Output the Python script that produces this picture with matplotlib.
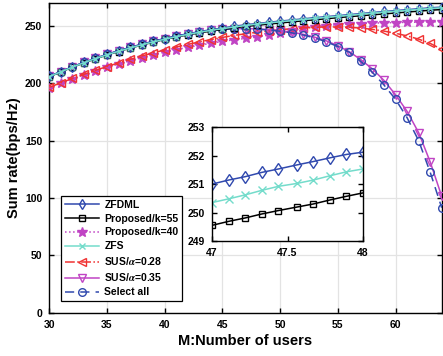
import numpy as np
import matplotlib
matplotlib.use("Agg")
from matplotlib import pyplot as plt

# main curves, one value per user count M = 30..64
m = np.arange(30, 65)

zfdml = [206.0, 210.2, 214.3, 218.2, 221.8, 225.2, 228.3, 231.2, 234.0, 236.6,
         239.0, 241.2, 243.2, 245.0, 246.7, 248.2, 249.7, 251.0, 252.1, 253.2,
         254.2, 255.2, 256.2, 257.2, 258.1, 259.0, 259.9, 260.8, 261.7, 262.6,
         263.4, 264.2, 265.0, 265.8, 266.4]
prop55 = [205.7, 209.9, 213.9, 217.8, 221.3, 224.7, 227.7, 230.6, 233.3, 235.8,
          238.2, 240.3, 242.2, 243.9, 245.5, 246.9, 248.3, 249.55, 250.6, 251.6,
          252.6, 253.5, 254.5, 255.4, 256.3, 257.2, 258.1, 258.9, 259.7, 260.5,
          261.3, 262.1, 262.9, 263.7, 264.3]
prop40 = [196.3, 200.1, 203.8, 207.3, 210.6, 213.8, 216.8, 219.6, 222.3, 224.8,
          227.1, 229.3, 231.3, 233.2, 234.9, 236.5, 237.9, 239.1, 240.3, 242.0,
          244.0, 246.0, 247.8, 249.2, 250.3, 251.1, 251.7, 252.1, 252.4, 252.7,
          252.9, 253.1, 253.3, 253.5, 253.7]
zfs = [205.8, 210.0, 214.0, 217.9, 221.5, 224.8, 227.9, 230.7, 233.5, 236.0,
       238.4, 240.6, 242.6, 244.4, 246.1, 247.6, 249.0, 250.35, 251.55, 252.6,
       253.6, 254.6, 255.6, 256.6, 257.5, 258.4, 259.3, 260.2, 261.1, 262.0,
       262.8, 263.6, 264.4, 265.2, 265.8]
sus028 = [196.5, 200.4, 204.2, 207.8, 211.3, 214.6, 217.8, 220.8, 223.7, 226.5,
          229.1, 231.6, 233.9, 236.1, 238.1, 240.0, 241.7, 243.2, 244.5, 245.7,
          246.7, 247.6, 248.3, 248.8, 249.1, 249.1, 248.8, 248.1, 247.0, 245.5,
          243.6, 241.3, 238.5, 234.8, 229.6]
sus035 = [206.0, 210.2, 214.3, 218.2, 221.8, 225.2, 228.3, 231.2, 234.0, 236.6,
          239.0, 241.1, 243.0, 244.8, 246.2, 247.1, 247.6, 247.7, 247.4, 246.8,
          245.8, 244.5, 242.7, 240.2, 237.0, 232.8, 227.5, 220.5, 212.5, 202.5,
          190.0, 175.5, 157.0, 131.5, 101.5]
select_all = [206.0, 210.2, 214.3, 218.2, 221.8, 225.2, 228.3, 231.2, 234.0, 236.6,
              239.0, 241.0, 243.0, 244.8, 246.2, 247.1, 247.6, 247.6, 247.2, 246.5,
              245.4, 244.0, 242.1, 239.5, 236.2, 232.0, 227.0, 219.0, 209.5, 198.5,
              186.0, 170.0, 150.0, 122.5, 91.5]

# zoomed detail for M between 47 and 48
m_zoom = [47.0, 47.11, 47.22, 47.33, 47.44, 47.56, 47.67, 47.78, 47.89, 48.0]
zfdml_zoom = [251.0, 251.14, 251.26, 251.41, 251.53, 251.67, 251.79, 251.92, 252.04, 252.12]
prop55_zoom = [249.55, 249.69, 249.81, 249.95, 250.07, 250.19, 250.3, 250.44, 250.57, 250.69]
zfs_zoom = [250.35, 250.48, 250.62, 250.78, 250.92, 251.02, 251.14, 251.29, 251.43, 251.53]

labels = ["ZFDML", "Proposed/k=55", "Proposed/k=40", "ZFS",
          r"SUS/$\alpha$=0.28", r"SUS/$\alpha$=0.35", "Select all"]

blue = "#3049AE"
magenta = "#C044C4"
red = "#F03232"
cyan = "#74DCCB"

plt.rcParams["font.family"] = ["Liberation Sans", "DejaVu Sans"]
plt.rcParams["font.weight"] = "bold"
plt.rcParams["axes.labelweight"] = "bold"
plt.rcParams["mathtext.fontset"] = "stix"

fig = plt.figure(figsize=(4.43, 3.56), dpi=100)
ax = fig.add_axes([0.1113, 0.1216, 0.8858, 0.870])

ms = 5
lw = 1.1
mew = 1.0
ax.plot(m, zfdml, "-", color=blue, marker="d", mfc="none", ms=ms, mew=mew, lw=lw, label=labels[0], zorder=7)
ax.plot(m, prop55, "-", color="black", marker="s", mfc="none", ms=ms - 0.5, mew=mew, lw=lw, label=labels[1], zorder=6)
ax.plot(m, prop40, ":", color=magenta, marker="*", mfc=magenta, ms=ms + 2, mew=mew, lw=lw, label=labels[2], zorder=3)
ax.plot(m, zfs, "-", color=cyan, marker="x", ms=ms, mew=mew, lw=lw, label=labels[3], zorder=8)
ax.plot(m, sus028, "-.", color=red, marker="<", mfc="none", ms=ms + 0.5, mew=mew, lw=lw, label=labels[4], zorder=4)
ax.plot(m, sus035, "-", color=magenta, marker="v", mfc="none", ms=ms + 0.5, mew=mew, lw=lw, label=labels[5], zorder=4)
ax.plot(m, select_all, "--", color=blue, marker="o", mfc="none", ms=ms + 0.5, mew=mew, lw=lw,
        dashes=(6, 4), label=labels[6], zorder=5)

ax.set_xlim(30, 64)
ax.set_ylim(0, 270)
ax.set_xticks(np.arange(30, 61, 5))
ax.set_yticks(np.arange(0, 251, 50))
ax.grid(True, color="#E3E3E3", lw=0.9)
ax.set_axisbelow(True)
ax.tick_params(direction="in", top=True, right=True, length=3.5, labelsize=7.5, width=1, pad=5)
for s in ax.spines.values():
    s.set_linewidth(1.0)
ax.set_xlabel("M:Number of users", fontsize=10.5, labelpad=3)
ax.set_ylabel("Sum rate(bps/Hz)", fontsize=10.5, labelpad=3)

leg = ax.legend(loc="lower left", bbox_to_anchor=(0.03, 0.038), borderaxespad=0,
                fontsize=7.5, fancybox=False, edgecolor="black", framealpha=1,
                handlelength=3.3, handletextpad=0.5, labelspacing=0.38,
                borderpad=0.35)
leg.get_frame().set_linewidth(0.9)
leg.set_zorder(10)

# inset
ins = fig.add_axes([0.4786, 0.323, 0.341, 0.320])
ins.plot(m_zoom, zfdml_zoom, "-", color=blue, marker="d", mfc="none", ms=ms + 1, mew=mew, lw=lw)
ins.plot(m_zoom, prop55_zoom, "-", color="black", marker="s", mfc="none", ms=ms, mew=mew, lw=lw)
ins.plot(m_zoom, zfs_zoom, "-", color=cyan, marker="x", ms=ms + 0.5, mew=mew, lw=lw)
ins.set_xlim(47, 48)
ins.set_ylim(249, 253)
ins.set_xticks([47, 47.5, 48])
ins.set_xticklabels(["47", "47.5", "48"])
ins.set_yticks([249, 250, 251, 252, 253])
ins.tick_params(direction="in", top=True, right=True, length=3.5, labelsize=7.5, width=1, pad=5)
for s in ins.spines.values():
    s.set_linewidth(1.0)

fig.savefig("out.png", dpi=100)
